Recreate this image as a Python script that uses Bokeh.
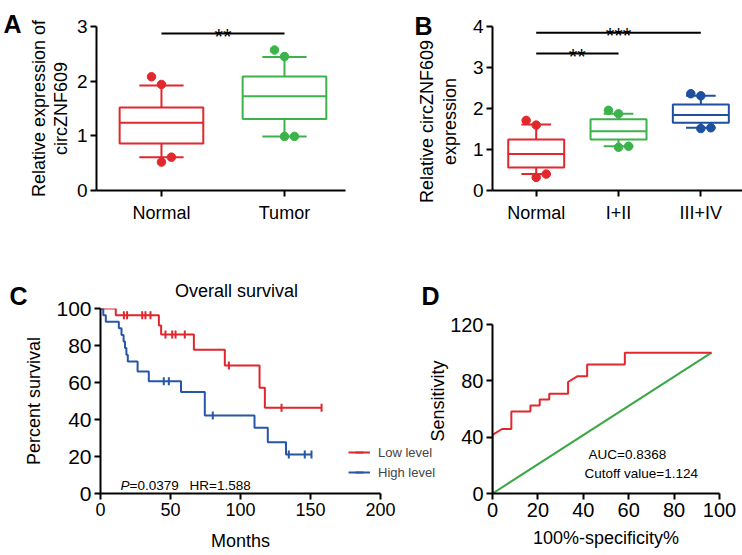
import numpy as np
from bokeh.plotting import figure
from bokeh.layouts import row, column
from bokeh.models import Range1d, FixedTicker, Label, Legend, LegendItem
from bokeh.embed import file_html
from bokeh.resources import INLINE

FONT = "Liberation Sans"
RED = "#e2272d"
GREEN = "#3cb34a"
BLUE = "#1f4f9f"
KM_RED = "#e0262d"
KM_BLUE = "#2656a6"
ROC_RED = "#e2272d"
ROC_GREEN = "#3aa845"

# ---------------- Panel A data ----------------
a_groups = ["Normal", "Tumor"]
a_low = [0.61, 0.99]
a_q1 = [0.86, 1.31]
a_median = [1.24, 1.725]
a_q3 = [1.52, 2.085]
a_high = [1.92, 2.44]
a_points = [[2.08, 1.94, 0.52, 0.61], [2.57, 2.45, 0.99, 0.99]]
a_sig_from = [1]
a_sig_to = [2]
a_sig_y = [2.87]
a_sig_text = ["**"]

# ---------------- Panel B data ----------------
b_groups = ["Normal", "I+II", "III+IV"]
b_low = [0.40, 1.08, 1.53]
b_q1 = [0.564, 1.244, 1.65]
b_median = [0.89, 1.448, 1.84]
b_q3 = [1.244, 1.735, 2.10]
b_high = [1.61, 1.87, 2.31]
b_points = [[1.71, 1.595, 0.32, 0.40], [1.955, 1.87, 1.055, 1.08], [2.36, 2.31, 1.51, 1.53]]
b_sig_from = [1, 1]
b_sig_to = [3, 2]
b_sig_y = [3.85, 3.34]
b_sig_text = ["***", "**"]
b_ylabel = ["Relative circZNF609", "expression"]

# point jitter pattern (upper outer, upper, lower outer, lower)
jitter_pattern = [-1, 0, 0, 1]

# ---------------- Panel C data (Kaplan-Meier) ----------------
km_title = "Overall survival"
km_series = ["Low level", "High level"]
low_times = [0, 10.9, 41.7, 43.3, 66.7, 88.8, 113.6, 117.4, 157.9]
low_surv = [100, 96.3, 90.8, 86.0, 77.7, 69.2, 57.1, 46.3, 46.3]
low_censor = [16.7, 19.0, 29.8, 32.1, 35.7, 46.4, 51.2, 53.6, 60.2, 91.7, 129.3, 157.9]
high_times = [0, 2.0, 3.8, 13.1, 15.0, 16.5, 17.5, 18.5, 19.5, 26.5, 34.5, 57.5, 74.5, 110.0, 119.5, 132.5, 150.7]
high_surv = [100, 96.4, 92.9, 89.3, 85.7, 82.1, 78.6, 75.0, 71.4, 65.9, 60.7, 54.8, 42.2, 35.5, 27.7, 21.1, 21.1]
high_censor = [45.2, 48.8, 80.2, 134.5, 145.9, 150.7]
km_xticks = [0, 50, 100, 150, 200]
km_yticks = [0, 20, 40, 60, 80, 100]

# ---------------- Panel D data (ROC) ----------------
roc_fpr = [0, 0, 4.2, 8.3, 8.3, 16.7, 16.7, 20.8, 20.8, 25.0, 25.0, 33.3, 33.3, 37.5, 41.7, 41.7, 58.3, 58.3, 96.5]
roc_tpr = [0, 41.7, 45.8, 45.8, 58.3, 58.3, 62.5, 62.5, 66.7, 66.7, 70.8, 70.8, 79.2, 83.3, 83.3, 91.7, 91.7, 100, 100]
ref_fpr = [0, 96.5]
ref_tpr = [0, 100]
roc_xticks = [0, 20, 40, 60, 80, 100]
roc_yticks = [0, 40, 80, 120]

panel_letters = ["A", "B", "C", "D"]


def make_fig(w, h, xr, yr, left, right, top, bottom, xtick="18px", ytick="19px"):
    p = figure(width=w, height=h, x_range=Range1d(*xr), y_range=Range1d(*yr),
               output_backend="svg", toolbar_location=None, tools="",
               min_border_left=left, min_border_right=right,
               min_border_top=top, min_border_bottom=bottom,
               background_fill_color=None, border_fill_color=None)
    p.grid.visible = False
    p.outline_line_color = None
    for ax in p.axis:
        ax.axis_line_width = 2
        ax.axis_line_color = "black"
        ax.major_tick_line_width = 2
        ax.major_tick_line_color = "black"
        ax.major_tick_out = 6
        ax.major_tick_in = 0
        ax.minor_tick_line_color = None
        ax.major_label_text_font = FONT
        ax.major_label_text_color = "black"
        ax.major_label_standoff = 3
        ax.axis_label_text_font = FONT
        ax.axis_label_text_font_size = "18px"
        ax.axis_label_text_font_style = "normal"
        ax.axis_label_text_color = "black"
    p.xaxis.major_label_text_font_size = xtick
    p.yaxis.major_label_text_font_size = ytick
    return p


def draw_boxes(p, groups, low, q1, med, q3, high, points, colors, jit):
    xs = np.arange(1, len(groups) + 1, dtype=float)
    bw, cw = 0.68, 0.36
    p.segment(x0=xs, y0=q3, x1=xs, y1=high, line_color=colors, line_width=2)
    p.segment(x0=xs, y0=low, x1=xs, y1=q1, line_color=colors, line_width=2)
    p.quad(left=xs - bw / 2, right=xs + bw / 2, bottom=q1, top=q3,
           fill_color="white", line_color=colors, line_width=2)
    p.segment(x0=xs - bw / 2, y0=med, x1=xs + bw / 2, y1=med, line_color=colors, line_width=2)
    p.segment(x0=xs - cw / 2, y0=high, x1=xs + cw / 2, y1=high, line_color=colors, line_width=2)
    p.segment(x0=xs - cw / 2, y0=low, x1=xs + cw / 2, y1=low, line_color=colors, line_width=2)
    px, py, pc = [], [], []
    for i, vals in enumerate(points):
        for j, v in enumerate(vals):
            px.append(xs[i] + jit * jitter_pattern[j])
            py.append(v)
            pc.append(colors[i])
    p.scatter(px, py, size=8.5, fill_color=pc, line_color=pc)
    p.xaxis.ticker = FixedTicker(ticks=list(xs))
    p.xaxis.major_label_overrides = {int(x): g for x, g in zip(xs, groups)}


def draw_sig(p, x0s, x1s, ys, texts):
    p.segment(x0=x0s, y0=ys, x1=x1s, y1=ys, line_color="black", line_width=2)
    for a, b, y, t in zip(x0s, x1s, ys, texts):
        p.add_layout(Label(x=(a + b) / 2, y=y, text=t, text_align="center",
                           text_baseline="alphabetic", y_offset=-3,
                           text_font=FONT, text_font_size="22px", text_color="black"))


def note(p, sx, sy, text, size="13.5px", style="normal", align="left"):
    p.add_layout(Label(x=sx, y=sy, x_units="screen", y_units="screen", text=text,
                       text_font=FONT, text_font_size=size, text_font_style=style,
                       text_align=align, text_baseline="alphabetic", text_color="black"))


# ---------------- Panel A ----------------
pa = make_fig(371, 270, (0.472, 2.496), (0, 3), 96, 26, 26, 80)
draw_boxes(pa, a_groups, a_low, a_q1, a_median, a_q3, a_high, a_points, [RED, GREEN], 0.081)
draw_sig(pa, a_sig_from, a_sig_to, a_sig_y, a_sig_text)
pa.yaxis.ticker = FixedTicker(ticks=[0, 1, 2, 3])
pa.yaxis.axis_label = "Relative expression of\ncircZNF609"
pa.yaxis.axis_label_standoff = 3
pa.yaxis.axis_label_text_line_height = 1.1
pa.xaxis.major_label_standoff = 6

# ---------------- Panel B ----------------
pb = make_fig(371, 270, (0.469, 3.506), (0, 4), 121, 0, 26, 80)
draw_boxes(pb, b_groups, b_low, b_q1, b_median, b_q3, b_high, b_points, [RED, GREEN, BLUE], 0.122)
draw_sig(pb, b_sig_from, b_sig_to, b_sig_y, b_sig_text)
pb.yaxis.ticker = FixedTicker(ticks=[0, 1, 2, 3, 4])
pb.xaxis.major_label_standoff = 6

# ---------------- Panel C ----------------
pc = make_fig(445, 285, (0, 200), (0, 100), 100, 65, 38, 62, xtick="18px", ytick="21px")
km_low = pc.step(low_times, low_surv, mode="after", line_color=KM_RED, line_width=2)
km_high = pc.step(high_times, high_surv, mode="after", line_color=KM_BLUE, line_width=2)


def surv_at(times, surv, ts):
    idx = np.searchsorted(np.array(times), np.array(ts), side="right") - 1
    return [surv[i] for i in idx]


pc.scatter(low_censor, surv_at(low_times, low_surv, low_censor), marker="dash",
           angle=np.pi / 2, size=8, line_color=KM_RED, line_width=2)
pc.scatter(high_censor, surv_at(high_times, high_surv, high_censor), marker="dash",
           angle=np.pi / 2, size=8, line_color=KM_BLUE, line_width=2)
pc.xaxis.ticker = FixedTicker(ticks=km_xticks)
pc.yaxis.ticker = FixedTicker(ticks=km_yticks)
pc.xaxis.axis_label = "Months"
pc.yaxis.axis_label = "Percent survival"
pc.xaxis.axis_label_standoff = 12
pc.yaxis.axis_label_standoff = 9
note(pc, 20, 8, "P", style="italic")
note(pc, 29, 8, "=0.0379")
note(pc, 89, 8, "HR=1.588")

# ---------------- Panel D ----------------
pd_ = make_fig(371, 285, (0, 100), (0, 131.4), 121, 23, 38, 62, xtick="20px", ytick="20px")
pd_.line(ref_fpr, ref_tpr, line_color=ROC_GREEN, line_width=2)
pd_.line(roc_fpr, roc_tpr, line_color=ROC_RED, line_width=2)
pd_.xaxis.ticker = FixedTicker(ticks=roc_xticks)
pd_.yaxis.ticker = FixedTicker(ticks=roc_yticks)
pd_.yaxis.bounds = (0, 120)
pd_.xaxis.axis_label = "100%-specificity%"
pd_.yaxis.axis_label = "Sensitivity"
pd_.xaxis.axis_label_standoff = 8
pd_.yaxis.axis_label_standoff = -1
note(pd_, 96, 39, "AUC=0.8368")
note(pd_, 92, 20, "Cutoff value=1.124")
pd_.margin = (0, 0, 0, -74)

# ---------------- overlay: free texts placed in page pixel coordinates ----------------
ov = figure(width=742, height=555, x_range=Range1d(0, 742), y_range=Range1d(555, 0),
            output_backend="svg", toolbar_location=None, tools="",
            x_axis_location=None, y_axis_location=None,
            min_border_left=0, min_border_right=0, min_border_top=0, min_border_bottom=0,
            background_fill_color=None, border_fill_color=None)
ov.grid.visible = False
ov.outline_line_color = None
for letter, lx, ly in zip(panel_letters, [3, 414, 9, 421], [23, 25, 295, 295]):
    ov.add_layout(Label(x=lx, y=ly, text=letter, text_font=FONT, text_font_size="25px",
                        text_font_style="bold", text_align="left", text_baseline="alphabetic",
                        text_color="black"))
# panel B y-axis title (two lines)
for txt, lx in zip(b_ylabel, [426, 449]):
    ov.add_layout(Label(x=lx, y=121, text=txt, angle=np.pi / 2, text_font=FONT,
                        text_font_size="18px", text_align="center", text_baseline="middle",
                        text_color="black"))
# panel C title
ov.add_layout(Label(x=236, y=290, text=km_title, text_font=FONT, text_font_size="18px",
                    text_align="center", text_baseline="alphabetic", text_color="black"))
# panel C legend: proxy glyphs styled like the KM curves
nan1 = [np.nan]
lg_low_line = ov.line(nan1, nan1, line_color=KM_RED, line_width=2)
lg_low_tick = ov.scatter(nan1, nan1, marker="dash", angle=np.pi / 2, size=8, line_color=KM_RED, line_width=2)
lg_high_line = ov.line(nan1, nan1, line_color=KM_BLUE, line_width=2)
lg_high_tick = ov.scatter(nan1, nan1, marker="dash", angle=np.pi / 2, size=8, line_color=KM_BLUE, line_width=2)
legend = Legend(items=[LegendItem(label=km_series[0], renderers=[lg_low_line, lg_low_tick]),
                       LegendItem(label=km_series[1], renderers=[lg_high_line, lg_high_tick])],
                location=(348, 73), orientation="vertical",
                label_text_font=FONT, label_text_font_size="13px",
                glyph_width=22, glyph_height=20, label_height=20, label_standoff=8,
                spacing=0, padding=0, margin=0, border_line_color=None,
                background_fill_alpha=0)
ov.add_layout(legend)
ov.margin = (-555, 0, 0, 0)

layout = column(row(pa, pb), row(pc, pd_), ov)
open("out.html", "w").write(file_html(layout, INLINE))
